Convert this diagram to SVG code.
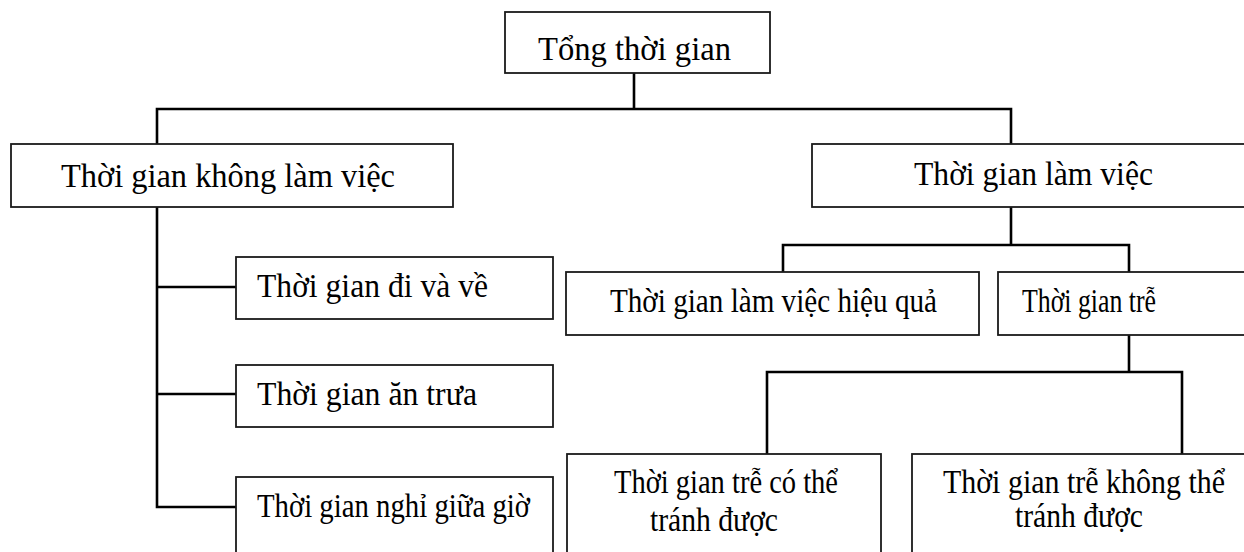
<svg xmlns="http://www.w3.org/2000/svg" width="1244" height="552" viewBox="0 0 1244 552">
<style>
.box{fill:#fff;stroke:#1a1a1a;stroke-width:1.8}
.t{font-family:"Liberation Serif","Times New Roman",serif;font-size:33px;fill:#000}
.c{fill:none;stroke:#000;stroke-width:2.6;stroke-linecap:square}
</style>
<rect width="1244" height="552" fill="#fff"/>
<g id="connectors">
<path class="c" d="M634 73V109M157 109H1011M157 109V144M1011 109V144"/>
<path class="c" d="M157 207V507M157 287H236M157 394H236M157 507H236"/>
<path class="c" d="M1011 207V245M783 245H1129M783 245V272M1129 245V272"/>
<path class="c" d="M1129 335V372M767 372H1182M767 372V454M1182 372V454"/>
</g>
<g id="n-tong">
<rect class="box" x="505" y="12" width="265" height="61"/>
<text class="t" x="538" y="60" textLength="193" lengthAdjust="spacingAndGlyphs">Tổng thời gian</text>
</g>
<g id="n-khong">
<rect class="box" x="11" y="144" width="442" height="63"/>
<text class="t" x="61" y="187" textLength="334" lengthAdjust="spacingAndGlyphs">Thời gian không làm việc</text>
</g>
<g id="n-lamviec">
<rect class="box" x="812" y="144" width="440" height="63"/>
<text class="t" x="914" y="185" textLength="239" lengthAdjust="spacingAndGlyphs">Thời gian làm việc</text>
</g>
<g id="n-divave">
<rect class="box" x="236" y="257" width="317" height="62"/>
<text class="t" x="257" y="297" textLength="231" lengthAdjust="spacingAndGlyphs">Thời gian đi và về</text>
</g>
<g id="n-antrua">
<rect class="box" x="236" y="365" width="317" height="62"/>
<text class="t" x="257" y="405" textLength="220" lengthAdjust="spacingAndGlyphs">Thời gian ăn trưa</text>
</g>
<g id="n-nghi">
<rect class="box" x="236" y="477" width="317" height="90"/>
<text class="t" x="257" y="517" textLength="273" lengthAdjust="spacingAndGlyphs">Thời gian nghỉ giữa giờ</text>
</g>
<g id="n-hieuqua">
<rect class="box" x="566" y="272" width="413" height="63"/>
<text class="t" x="610" y="312" textLength="327" lengthAdjust="spacingAndGlyphs">Thời gian làm việc hiệu quả</text>
</g>
<g id="n-tre">
<rect class="box" x="998" y="272" width="254" height="63"/>
<text class="t" x="1022" y="312" textLength="134" lengthAdjust="spacingAndGlyphs">Thời gian trễ</text>
</g>
<g id="n-tre-co">
<rect class="box" x="567" y="454" width="314" height="110"/>
<text class="t" x="614" y="493" textLength="224" lengthAdjust="spacingAndGlyphs">Thời gian trễ có thể</text>
<text class="t" x="650" y="531" textLength="128" lengthAdjust="spacingAndGlyphs">tránh được</text>
</g>
<g id="n-tre-khong">
<rect class="box" x="912" y="454" width="340" height="110"/>
<text class="t" x="943" y="493" textLength="282" lengthAdjust="spacingAndGlyphs">Thời gian trễ không thể</text>
<text class="t" x="1015" y="527" textLength="128" lengthAdjust="spacingAndGlyphs">tránh được</text>
</g>
</svg>
